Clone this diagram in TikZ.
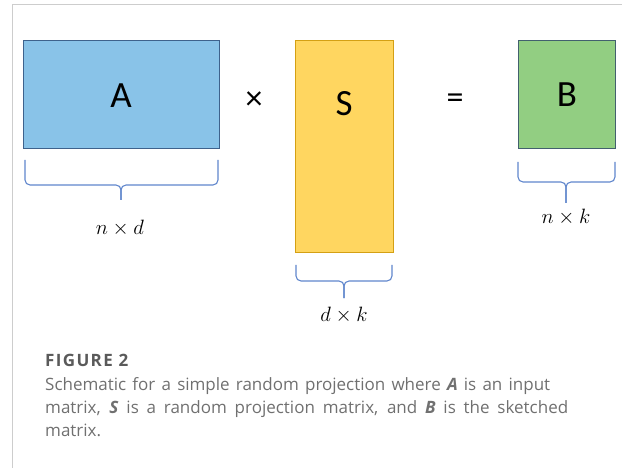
\documentclass[tikz,border=0pt]{standalone}
\usepackage{amsmath}
\usepackage{fontspec}
\setmainfont{Open Sans}
\newfontfamily\boxfont{Carlito}
\usetikzlibrary{positioning}
\definecolor{matA}{RGB}{137,195,232}
\definecolor{matAedge}{RGB}{62,98,140}
\definecolor{matS}{RGB}{255,214,96}
\definecolor{matSedge}{RGB}{212,160,20}
\definecolor{matB}{RGB}{146,206,130}
\definecolor{matBedge}{RGB}{66,96,110}
\definecolor{bracec}{RGB}{96,134,204}
\definecolor{capgray}{RGB}{112,112,112}
\definecolor{figgray}{RGB}{90,90,90}
\definecolor{framec}{RGB}{205,205,205}
% curly brace under a matrix: x-left, x-right, x-middle, top, bar, tip
\newcommand{\matbrace}[6]{%
  \draw[bracec,line width=1.1pt,rounded corners=5pt] (#1,#4)--(#1,#5)--(#3,#5)--(#3,#6);
  \draw[bracec,line width=1.1pt,rounded corners=5pt] (#2,#4)--(#2,#5)--(#3,#5)--(#3,#6);}

\begin{document}
\begin{tikzpicture}[x=1pt,y=-1pt,
  mat/.style={inner sep=0pt,line width=1pt},
  letter/.style={font=\boxfont\fontsize{37}{37}\selectfont},
  op/.style={font=\boxfont\fontsize{34}{34}\selectfont},
  dim/.style={font=\fontsize{20}{20}\selectfont},
  captext/.style={anchor=base west,capgray,font=\fontsize{17}{17}\selectfont,inner sep=0pt}]
  \useasboundingbox (0,0) rectangle (622,468);
  \draw[framec,line width=1pt] (12,468)--(12,5)--(622,5);
  % matrices
  \node[mat,draw=matAedge,fill=matA,minimum width=196pt,minimum height=108pt] (A) at (121,95) {};
  \node[mat,draw=matSedge,fill=matS,minimum width=98pt,minimum height=212pt] (S) at (344,147) {};
  \node[mat,draw=matBedge,fill=matB,minimum width=97pt,minimum height=108pt] (B) at (566.5,95) {};
  \node[letter] (lblA) at (121,96) {A};
  \node[letter] (lblS) at (344,104) {S};
  \node[letter] (lblB) at (567,95) {B};
  \node[op] (times) at (254,101) {×};
  \node[op] (equals) at (455,101) {=};
  % braces and sizes
  \matbrace{25}{218}{121}{160}{185}{200}
  \node[dim] (dimA) at (120,228) {$n \times d$};
  \matbrace{296}{392}{344}{265}{281}{298}
  \node[dim] (dimS) at (344,315) {$d \times k$};
  \matbrace{518}{615}{566}{162}{182}{203}
  \node[dim] (dimB) at (566,217) {$n \times k$};
  % caption
  \node[captext,figgray,font=\bfseries\fontsize{17}{17}\selectfont\addfontfeature{LetterSpace=8}] (fig) at (45,366) {FIGURE 2};
  \node[captext] (line1) at (45,390) {\makebox[505pt][s]{Schematic for a simple random projection where \textbf{\textit{A}} is an input}};
  \node[captext] (line2) at (45,413) {\makebox[523pt][s]{matrix, \textbf{\textit{S}} is a random projection matrix, and \textbf{\textit{B}} is the sketched}};
  \node[captext] (line3) at (45,436) {matrix.};
\end{tikzpicture}
\end{document}
